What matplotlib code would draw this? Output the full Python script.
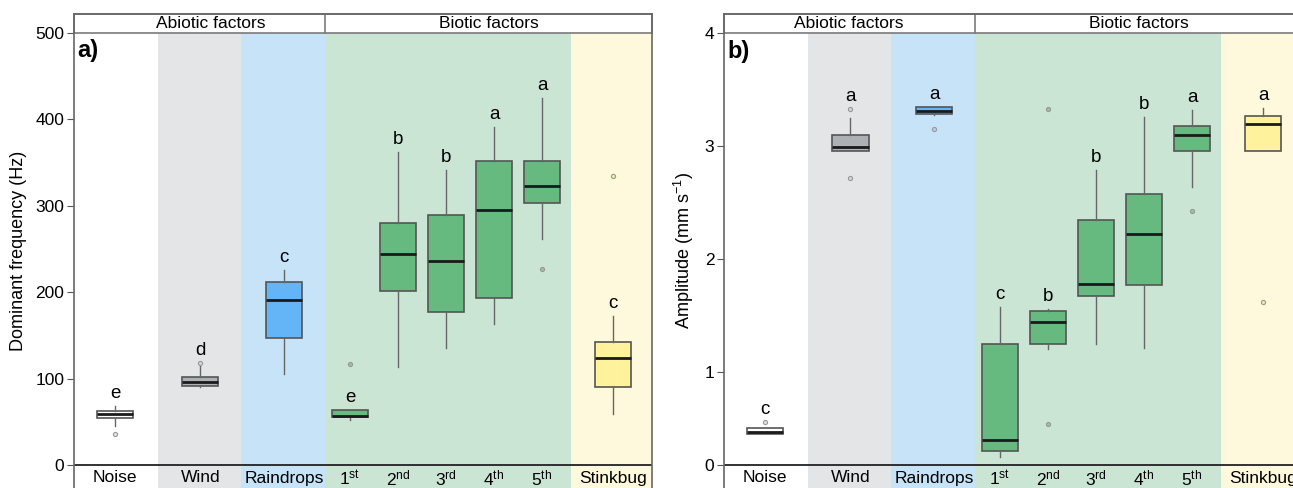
import matplotlib
matplotlib.use("Agg")
import matplotlib.pyplot as plt
from matplotlib.patches import Rectangle

plt.rcParams['font.family'] = ['Liberation Sans', 'DejaVu Sans']
plt.rcParams['mathtext.fontset'] = 'custom'
plt.rcParams['mathtext.rm'] = 'Liberation Sans'
plt.rcParams['mathtext.it'] = 'Liberation Sans:italic'

# categories
labels = ['Noise', 'Wind', 'Raindrops', '1$^{\\mathrm{st}}$', '2$^{\\mathrm{nd}}$',
          '3$^{\\mathrm{rd}}$', '4$^{\\mathrm{th}}$', '5$^{\\mathrm{th}}$', 'Stinkbug']

# a) dominant frequency (Hz)
freq_q1 = [54, 91.8, 147.4, 55.5, 201.7, 177.5, 193.3, 303.6, 90.7]
freq_med = [58.6, 96.4, 191, 56.3, 244.6, 235.7, 295, 323.3, 124.2]
freq_q3 = [62.5, 102.2, 211.4, 63.6, 279.7, 289, 352.2, 352, 142]
freq_lo = [45.5, 90.3, 105, 52, 113, 135, 162.8, 262, 58.6]
freq_hi = [68.6, 114.6, 225.7, 63.6, 362, 341.4, 390.8, 425, 172.5]
freq_out = [[35.5], [118.4], [], [116.5], [], [], [], [226.5], [334.8]]
freq_letters = ['e', 'd', 'c', 'e', 'b', 'b', 'a', 'a', 'c']

# b) amplitude (mm/s)
amp_q1 = [0.449, 2.956, 3.283, 0.301, 1.25, 1.675, 1.77, 2.956, 2.956]
amp_med = [0.466, 2.991, 3.313, 0.401, 1.443, 1.779, 2.224, 3.097, 3.197]
amp_q3 = [0.502, 3.10, 3.342, 1.25, 1.537, 2.345, 2.573, 3.18, 3.268]
amp_lo = [0.449, 2.956, 3.27, 0.25, 1.206, 1.25, 1.21, 2.64, 2.956]
amp_hi = [0.502, 3.245, 3.342, 1.578, 1.555, 2.788, 3.254, 3.319, 3.334]
amp_out = [[0.56], [3.325, 2.72], [3.15], [], [0.543, 3.325], [], [], [2.422], [1.617]]
amp_letters = ['c', 'a', 'a', 'c', 'b', 'b', 'b', 'a', 'a']

# layout
pos = [0.854, 2.635, 4.375, 5.75, 6.75, 7.75, 8.75, 9.75, 11.23]
edges = [0, 1.75, 3.48, 5.23, 10.35, 12.04]
band_colors = ['white', '#E4E5E7', '#C6E3F8', '#CBE5D5', '#FEF9DC']
box_colors = ['white', '#ADB1B5', '#63B5F7'] + ['#66B97F'] * 5 + ['#FFF29C']
flier_colors = ['#E2E2E2', '#D3D5D8', '#A9D3F5'] + ['#8FC79C'] * 5 + ['#F2E9A6']

W, H = 1293, 488
fig = plt.figure(figsize=(W / 100, H / 100), dpi=100)


def panel(left_px, q1, med, q3, lo, hi, out, letters, vmin, vmax, ticks, ticklabels,
          ylabel, tag, abiotic_x):
    ax = fig.add_axes([left_px / W, 0, 578 / W, (H - 14) / H])
    scale = (465 - 33) / (vmax - vmin)
    ylo = vmin - (H - 465) / scale
    yhi = vmax + (33 - 14) / scale
    ax.set_xlim(edges[0], edges[-1])
    ax.set_ylim(ylo, yhi)

    for i in range(len(band_colors)):
        ax.add_patch(Rectangle((edges[i], ylo), edges[i + 1] - edges[i], vmax - ylo,
                               fc=band_colors[i], ec='none', zorder=0))
    # header strip
    ax.add_patch(Rectangle((edges[0], vmax), edges[-1], yhi - vmax, fc='white',
                           ec='#7a7a7a', lw=1.2, zorder=1, clip_on=False))
    ax.plot([edges[3], edges[3]], [vmax, yhi], color='#7a7a7a', lw=1.2, zorder=2)
    ax.text(abiotic_x, (vmax + yhi) / 2, 'Abiotic factors', ha='center', va='center',
            fontsize=12.5)
    ax.text((edges[3] + edges[-1]) / 2, (vmax + yhi) / 2, 'Biotic factors',
            ha='center', va='center', fontsize=12.5)

    ax.plot([edges[0], edges[-1]], [vmin, vmin], color='#222222', lw=1.3, zorder=2)

    rng = vmax - vmin
    for i in range(len(labels)):
        st = dict(med=med[i], q1=q1[i], q3=q3[i], whislo=lo[i], whishi=hi[i],
                  fliers=out[i])
        ax.bxp([st], positions=[pos[i]], widths=0.75, patch_artist=True,
               showcaps=False, manage_ticks=False, zorder=3,
               boxprops=dict(facecolor=box_colors[i], edgecolor='#555555', lw=1.2),
               medianprops=dict(color='#1a1a1a', lw=2),
               whiskerprops=dict(color='#666666', lw=1),
               flierprops=dict(marker='o', ms=3, mfc=flier_colors[i], mec='#999999',
                               mew=0.8))
        top = max([hi[i]] + [f for f in out[i] if hi[i] < f < hi[i] + 0.08 * rng])
        ax.annotate(letters[i], (pos[i], top), xytext=(0, 3), textcoords='offset points',
                    ha='center', va='bottom', fontsize=13.5)
        ax.text(pos[i], vmin - 13 / scale, labels[i], ha='center', va='center',
                fontsize=12.5)

    ax.text(0.07, vmax - 18 / scale, tag, fontweight='bold', fontsize=17,
            ha='left', va='center')

    ax.set_xticks([])
    ax.set_yticks(ticks, ticklabels)
    ax.tick_params(axis='y', length=5, color='#555555', labelsize=12.5, pad=2)
    ax.set_ylabel(ylabel, fontsize=13, labelpad=6)
    for s in ['left', 'right', 'top']:
        ax.spines[s].set_color('#666666')
        ax.spines[s].set_linewidth(1.2)
    ax.spines['bottom'].set_visible(False)
    return ax


panel(74, freq_q1, freq_med, freq_q3, freq_lo, freq_hi, freq_out, freq_letters,
      0, 500, [0, 100, 200, 300, 400, 500], ['0', '100', '200', '300', '400', '500'],
      'Dominant frequency (Hz)', 'a)', 137 / 48)

panel(724, amp_q1, amp_med, amp_q3, amp_lo, amp_hi, amp_out, amp_letters,
      0.177, 4, [0.177, 1, 2, 3, 4], ['0', '1', '2', '3', '4'],
      'Amplitude (mm s$^{\\mathrm{-1}}$)', 'b)', 125 / 48)

fig.savefig('out.png', dpi=100)
